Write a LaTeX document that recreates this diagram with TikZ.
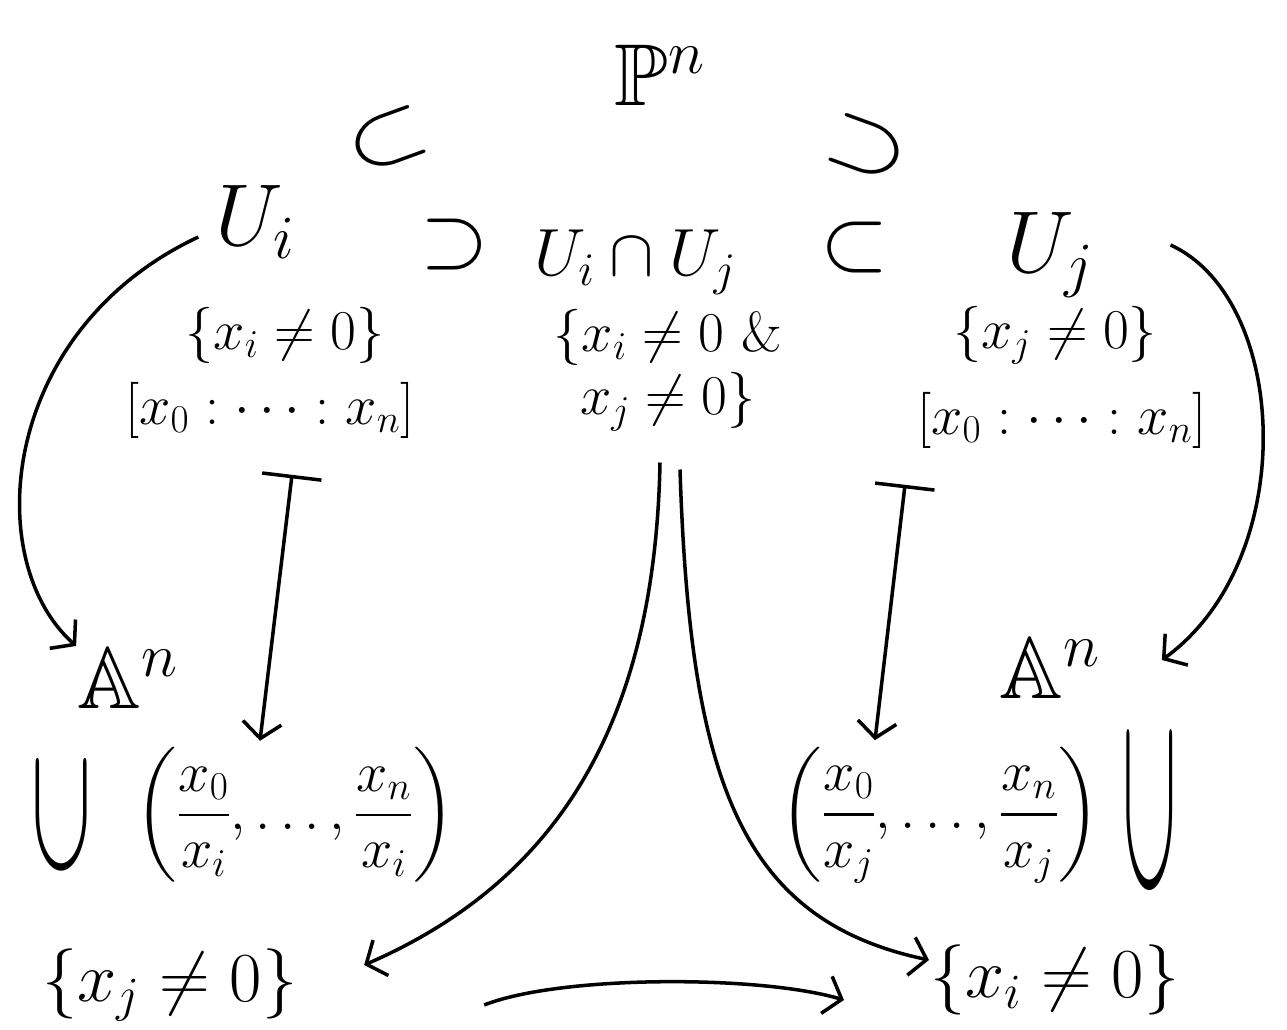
\RequirePackage{fix-cm}
\documentclass[tikz,border=0pt]{standalone}
\usepackage{amsmath,amssymb}
\usetikzlibrary{arrows.meta,calc}

\begin{document}
\begin{tikzpicture}[
    x=0.02cm, y=-0.02cm,
    line width=2pt,
    >={Straight Barb[length=9pt,width=22pt]},
    bigtxt/.style={
        font=\fontsize{50}{56}\selectfont,
        inner sep=0pt
    },
    settxt/.style={
        font=\fontsize{32}{36}\selectfont,
        inner sep=0pt,
        align=center
    },
    incl/.style={
        font=\fontsize{50}{56}\selectfont,
        inner sep=0pt,
        transform shape
    }
]
\useasboundingbox (0,0) rectangle (1287,1030);

% Spazi
\node[bigtxt] (Pn) at (660,75) {$\mathbb{P}^n$};
\node[bigtxt] (Ui) at (255,222) {$U_i$};
\node[bigtxt, font=\fontsize{38}{44}\selectfont] (Uij) at (635,262) {$U_i\cap U_j$};
\node[bigtxt] (Uj) at (1050,255) {$U_j$};
\node[bigtxt] (Al) at (128,678) {$\mathbb{A}^n$};
\node[bigtxt] (Ar) at (1050,668) {$\mathbb{A}^n$};

% Inclusioni
\node[incl, rotate=20, xscale=1.2] (inPl) at (388,140) {$\subset$};
\node[incl, rotate=-20, xscale=1.2] (inPr) at (868,148) {$\supset$};
\node[incl] (inUl) at (455,245) {$\supset$};
\node[incl] (inUr) at (855,248) {$\subset$};
\node[incl, rotate=90, xscale=2.1] (inAl) at (62,815) {$\subset$};
\node[incl, rotate=90, xscale=3, yscale=0.9] (inAr) at (1150,810) {$\subset$};

% Insiemi e coordinate
\node[settxt] (Si) at (285,335) {$\{x_i\neq0\}$};
\node[settxt] (Sij) at (668,370) {$\{x_i\neq0$ \&\\ $x_j\neq0\}$};
\node[settxt] (Sj) at (1055,335) {$\{x_j\neq0\}$};
\node[settxt] (Hi) at (270,410) {$[x_0:\cdots:x_n]$};
\node[settxt] (Hj) at (1062,420) {$[x_0:\cdots:x_n]$};
\node[settxt] (Fi) at (295,815) {$\left(\dfrac{x_0}{x_i},\dots,\dfrac{x_n}{x_i}\right)$};
\node[settxt] (Fj) at (940,815) {$\left(\dfrac{x_0}{x_j},\dots,\dfrac{x_n}{x_j}\right)$};
\node[settxt, font=\fontsize{40}{44}\selectfont] (Bj) at (170,985) {$\{x_j\neq0\}$};
\node[settxt, font=\fontsize{40}{44}\selectfont] (Bi) at (1055,980) {$\{x_i\neq0\}$};

% Mappe
\draw[{Bar[width=34pt]}->] ($(Hi.south)+(22,35)$) -- ($(Fi.north)+(-35,-5)$);
\draw[{Bar[width=34pt]}->] ($(Hj.south)+(-157,35)$) -- ($(Fj.north)+(-65,-5)$);
\draw[->] ($(Ui.west)+(-15,15)$) .. controls (0,330) and (-20,560) .. (Al.north west);
\draw[->] ($(Uj.east)+(75,-10)$) .. controls (1290,300) and (1300,560) .. ($(Ar.east)+(60,-8)$);
\draw[->] ($(Sij.south)+(-8,30)$) .. controls (655,720) and (560,880) .. ($(Bj.east)+(65,-20)$);
\draw[->] ($(Sij.south)+(12,37)$) .. controls (690,780) and (740,920) .. ($(Bi.west)+(0,-20)$);
\draw[->] ($(Bj.east)+(185,20)$) .. controls (560,975) and (760,975) .. ($(Bi.west)+(-85,20)$);

\end{tikzpicture}
\end{document}
